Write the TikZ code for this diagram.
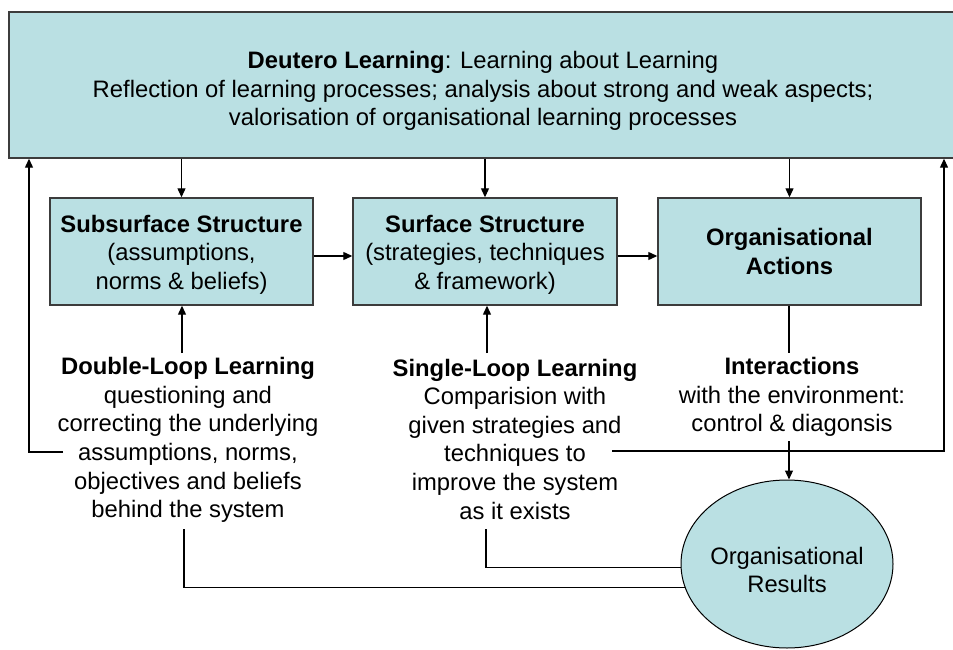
\documentclass[tikz,border=0pt]{standalone}
\usepackage{fontspec}
\setmainfont{Liberation Sans}
\usetikzlibrary{arrows.meta,shapes.geometric}
\definecolor{boxfill}{RGB}{186,224,227}
\definecolor{boxline}{RGB}{60,60,60}
\newcommand{\dgfont}{\fontsize{23.8}{28.6}\selectfont}
\begin{document}
\begin{tikzpicture}[x=1pt,y=-1pt,
  box/.style={draw=boxline,fill=boxfill,line width=1.4pt,rectangle,inner sep=0pt,align=center,font=\dgfont},
  lbl/.style={align=center,inner sep=0pt,font=\dgfont},
  conn/.style={line width=1.2pt,draw=black},
  arr/.style={conn,-{Triangle[length=9pt,width=8pt]}}]
\useasboundingbox (0,0) rectangle (953,650);

\node[box,minimum width=948pt,minimum height=146pt] (deut) at (483,85) {};
\node[lbl] (deuttxt) at (483,91)
  {\textbf{Deutero Learning}: Learning about Learning\\
   Reflection of learning processes; analysis about strong and weak aspects;\\
   valorisation of organisational learning processes};

\node[box,minimum width=263pt,minimum height=107pt] (sub) at (181.5,251.5) {};
\node[lbl] (subtxt) at (181.5,254.5)
  {\textbf{Subsurface Structure}\\(assumptions,\\norms \& beliefs)};
\node[box,minimum width=264pt,minimum height=107pt] (surf) at (485,251.5) {};
\node[lbl] (surftxt) at (485,254.5)
  {\textbf{Surface Structure}\\(strategies, techniques\\\& framework)};
\node[box,minimum width=263pt,minimum height=107pt] (act) at (789.5,251.5)
  {\textbf{Organisational}\\\textbf{Actions}};

\node[ellipse,draw=black,fill=boxfill,line width=1pt,minimum width=212pt,minimum height=168pt,inner sep=0pt] (res) at (787,564) {};
\node[lbl] (restxt) at (787,570) {Organisational\\Results};

\node[lbl] (double) at (188,440)
  {\textbf{Double-Loop Learning}\\questioning and\\correcting the underlying\\assumptions, norms,\\objectives and beliefs\\behind the system};
\node[lbl] (single) at (515,439)
  {\textbf{Single-Loop Learning}\\Comparision with\\given strategies and\\techniques to\\improve the system\\as it exists};
\node[lbl] (inter) at (792,397)
  {\textbf{Interactions}\\with the environment:\\control \& diagonsis};

% top-down arrows
\draw[arr] (sub.north |- deut.south) -- (sub.north);
\draw[arr] (surf.north |- deut.south) -- (surf.north);
\draw[arr] (act.north |- deut.south) -- (act.north);

% horizontal arrows
\draw[arr] (sub.east |- 0,256) -- (surf.west |- 0,256);
\draw[arr] (surf.east |- 0,256) -- (act.west |- 0,256);

% learning arrows up
\coordinate (dtop) at (182,353);
\coordinate (stop) at (487,353);
\draw[arr] (dtop) -- (dtop |- sub.south);
\draw[arr] (stop) -- (stop |- surf.south);

% actions to interactions to results
\coordinate (itop) at (789,353);
\coordinate (ibot) at (789,441);
\draw[conn] (itop |- act.south) -- (itop);
\draw[arr] (ibot) -- (ibot |- res.north);

% feedback loops
\coordinate (lfb) at (63,452);
\coordinate (rfb) at (612,451);
\draw[arr] (lfb) -| (deut.south -| 29,0);
\draw[arr] (rfb) -| (deut.south -| 944,0);

% results to learning
\coordinate (dbot) at (184,529);
\coordinate (sbot) at (486,529);
\draw[conn] (dbot) |- (res.193.3);
\draw[conn] (sbot) |- (res.182.2);
\end{tikzpicture}
\end{document}
